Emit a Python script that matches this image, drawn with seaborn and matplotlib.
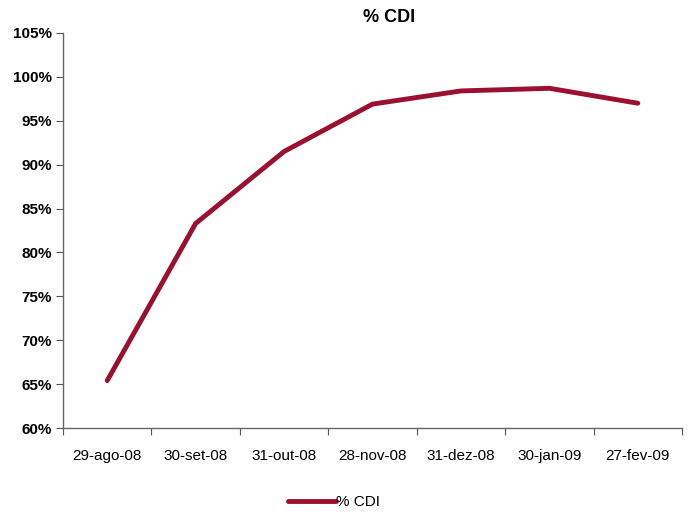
import matplotlib
matplotlib.use("Agg")
import matplotlib.pyplot as plt
import seaborn as sns
import numpy as np
from matplotlib.ticker import FixedLocator

datas = ["29-ago-08", "30-set-08", "31-out-08", "28-nov-08", "31-dez-08", "30-jan-09", "27-fev-09"]
pct_cdi = [65.4, 83.3, 91.5, 96.9, 98.4, 98.7, 97.0]
y_ticks = [60, 65, 70, 75, 80, 85, 90, 95, 100, 105]

sns.set_style("white")
plt.rcParams["font.family"] = ["Liberation Sans", "DejaVu Sans"]
plt.rcParams["text.color"] = "black"
plt.rcParams["xtick.color"] = "black"
plt.rcParams["ytick.color"] = "black"

fig = plt.figure(figsize=(6.96, 5.13), dpi=100)
ax = fig.add_axes([63 / 696, 1 - 428 / 513, (682 - 63) / 696, (428 - 33) / 513])

pos = np.arange(len(datas))
sns.lineplot(x=pos, y=pct_cdi, ax=ax, color="#9B0F2F", linewidth=3.5,
             label="% CDI", legend=False, solid_capstyle="round")

ax.set_xlim(-0.5, len(datas) - 0.5)
ax.set_ylim(60, 105)
ax.set_yticks(y_ticks)
ax.set_yticklabels([f"{v}%" for v in y_ticks], fontsize=11, fontweight="bold")

# Excel style: ticks between categories, labels in the middle
ax.xaxis.set_major_locator(FixedLocator(np.arange(-0.5, len(datas), 1.0)))
ax.set_xticklabels([])
ax.xaxis.set_minor_locator(FixedLocator(pos))
ax.set_xticklabels(datas, minor=True, fontsize=11)
ax.tick_params(axis="x", which="major", length=5, direction="out", color="#555555", bottom=True)
ax.tick_params(axis="x", which="minor", length=0, pad=15, bottom=True)
ax.tick_params(axis="y", length=5, direction="out", color="#555555", left=True, pad=3)

for s in ["top", "right"]:
    ax.spines[s].set_visible(False)
for s in ["left", "bottom"]:
    ax.spines[s].set_color("#666666")
    ax.spines[s].set_linewidth(1)

ax.set_xlabel("")
ax.set_ylabel("")
fig.text(389 / 696, 1 - 18 / 513, "% CDI", fontsize=13, fontweight="bold", ha="center", va="center")

handles, labels = ax.get_legend_handles_labels()
fig.legend(handles, labels, loc="center", bbox_to_anchor=(334 / 696, 1 - 502 / 513),
           frameon=False, fontsize=11, handlelength=3.2, handletextpad=0.0)

fig.savefig("out.png", dpi=100)
